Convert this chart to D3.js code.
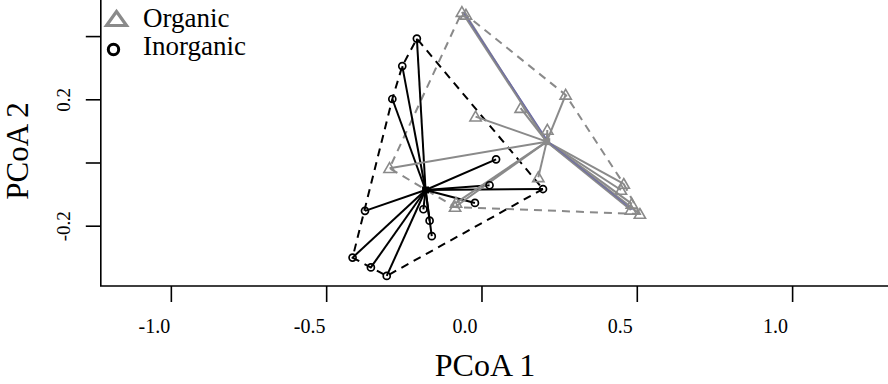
<!DOCTYPE html>
<html>
<head>
<meta charset="utf-8">
<script src="https://cdn.jsdelivr.net/npm/d3@7"></script>
<style>
    body { margin: 0; background: #fff; }
    svg { display: block; font-family: "Liberation Serif", "Times New Roman", serif; }
</style>
</head>
<body>
<div class="pcoa-graph"></div>
<script>
    // Sample scores (PCoA 1, PCoA 2)
    const organicX = [-0.063, -0.050, 0.271, 0.126, -0.019, 0.212, -0.296, 0.183, -0.082, -0.085, 0.458, 0.449, 0.484, 0.481, 0.510];
    const organicY = [0.476, 0.467, 0.214, 0.172, 0.145, 0.103, -0.018, -0.047, -0.128, -0.141, -0.068, -0.087, -0.131, -0.150, -0.163];
    const inorganicX = [-0.208, -0.255, -0.287, 0.047, 0.026, 0.198, -0.021, -0.375, -0.187, -0.167, -0.160, -0.415, -0.356, -0.305];
    const inorganicY = [0.392, 0.305, 0.201, 0.010, -0.072, -0.084, -0.128, -0.153, -0.148, -0.184, -0.233, -0.301, -0.332, -0.359];

    // group centroids (betadisper)
    const organicCentroid = [0.210, 0.066];
    const inorganicCentroid = [-0.180, -0.087];

    const groupNames = ["Organic", "Inorganic"];
    const xTicks = [-1.0, -0.5, 0.0, 0.5, 1.0];
    const xTickLabels = ["-1.0", "-0.5", "0.0", "0.5", "1.0"];
    const yTicks = [0.4, 0.2, 0.0, -0.2];
    const yTickLabels = ["", "0.2", "", "-0.2"];

    class PcoaGraph {
        constructor(selector) {
            this.width = 888;
            this.height = 384;
            this.grey = "#8a8a8a";

            this.svg = d3.select(selector)
                .append("svg")
                .attr("width", this.width)
                .attr("height", this.height);

            this.x = d3.scaleLinear().domain([-1.2255, 1.3087]).range([100.8, 888]);
            this.y = d3.scaleLinear().domain([-0.3908, 0.5142]).range([286, 0]);

            this.groups = [
                {name: "Inorganic", pts: d3.zip(inorganicX, inorganicY), c: inorganicCentroid, color: "#000", dash: "8,6"},
                {name: "Organic", pts: d3.zip(organicX, organicY), c: organicCentroid, color: this.grey, dash: "8,6"}
            ];

            this.drawAxes();
            this.drawGroups();
            this.drawLegend();
        }

        drawAxes() {
            const x = this.x, y = this.y;

            const xAxis = this.svg.append("g")
                .attr("transform", "translate(0,286)")
                .call(d3.axisBottom(x).tickValues(xTicks).tickSize(16).tickFormat((d, i) => xTickLabels[i]));
            xAxis.select(".domain").remove();
            xAxis.selectAll("line").attr("stroke", "#000").attr("stroke-width", 1.6);
            xAxis.selectAll("text")
                .attr("x", -17).attr("y", 47).attr("dy", 0)
                .attr("font-family", "Liberation Serif").attr("font-size", 20).attr("fill", "#000");

            const yAxis = this.svg.append("g")
                .attr("transform", "translate(100.8,0)")
                .call(d3.axisLeft(y).tickValues(yTicks).tickSize(15).tickFormat((d, i) => yTickLabels[i]));
            yAxis.select(".domain").remove();
            yAxis.selectAll("line").attr("stroke", "#000").attr("stroke-width", 1.6);
            yAxis.selectAll("text")
                .attr("x", 0).attr("y", 0).attr("dy", 0)
                .attr("text-anchor", "middle")
                .attr("transform", "translate(-31,0) rotate(-90)")
                .attr("font-family", "Liberation Serif").attr("font-size", 19).attr("fill", "#000");

            // L shaped frame
            this.svg.append("path")
                .attr("d", `M100.8,0 V286 H888`)
                .attr("fill", "none")
                .attr("stroke", "#000")
                .attr("stroke-width", 1.6);

            this.svg.append("text")
                .attr("x", 485).attr("y", 376)
                .attr("text-anchor", "middle")
                .attr("font-size", 32)
                .text("PCoA 1");

            this.svg.append("text")
                .attr("transform", "translate(28,151) rotate(-90)")
                .attr("text-anchor", "middle")
                .attr("font-size", 31)
                .text("PCoA 2");
        }

        drawGroups() {
            const x = this.x, y = this.y;
            const plot = this.svg.append("g");

            // hulls
            this.groups.forEach(g => {
                const hull = d3.polygonHull(g.pts);
                plot.append("path")
                    .attr("d", d3.line().x(d => x(d[0])).y(d => y(d[1])).curve(d3.curveLinearClosed)(hull))
                    .attr("fill", "none")
                    .attr("stroke", g.color)
                    .attr("stroke-width", 2)
                    .attr("stroke-dasharray", g.dash);
            });

            // spiders
            this.groups.forEach(g => {
                plot.append("g").selectAll("line")
                    .data(g.pts)
                    .enter()
                    .append("line")
                    .attr("x1", x(g.c[0])).attr("y1", y(g.c[1]))
                    .attr("x2", d => x(d[0])).attr("y2", d => y(d[1]))
                    .attr("stroke", g.color)
                    .attr("stroke-width", 2);
            });

            // the bluish overplotted segment through the organic centroid
            const org = this.groups[1];
            plot.append("path")
                .attr("d", d3.line().x(d => x(d[0]) + 1.5).y(d => y(d[1]))([org.pts[0], org.c, org.pts[13]]))
                .attr("fill", "none")
                .attr("stroke", "#6d6ca6")
                .attr("stroke-width", 1.2);

            // points
            plot.append("g").selectAll("circle")
                .data(this.groups[0].pts)
                .enter()
                .append("circle")
                .attr("cx", d => x(d[0]))
                .attr("cy", d => y(d[1]))
                .attr("r", 3.5)
                .attr("fill", "none")
                .attr("stroke", "#000")
                .attr("stroke-width", 1.7);

            plot.append("g").selectAll("path")
                .data(org.pts)
                .enter()
                .append("path")
                .attr("d", d3.symbol(d3.symbolTriangle, 55))
                .attr("transform", d => `translate(${x(d[0])},${y(d[1]) + 1})`)
                .attr("fill", "none")
                .attr("stroke", this.grey)
                .attr("stroke-width", 1.6);

            // centroids
            this.groups.forEach(g => {
                plot.append("rect")
                    .attr("x", x(g.c[0]) - 3.5)
                    .attr("y", y(g.c[1]) - 3.5)
                    .attr("width", 7)
                    .attr("height", 7)
                    .attr("fill", g.color);
            });
        }

        drawLegend() {
            const legend = this.svg.append("g");

            legend.append("path")
                .attr("d", "M116.5,11.5 L126.5,25.5 L106.5,25.5 Z")
                .attr("fill", "none")
                .attr("stroke", this.grey)
                .attr("stroke-width", 3.2);

            legend.append("circle")
                .attr("cx", 113.5).attr("cy", 49.5).attr("r", 5.2)
                .attr("fill", "none")
                .attr("stroke", "#000")
                .attr("stroke-width", 3);

            legend.selectAll("text")
                .data(groupNames)
                .enter()
                .append("text")
                .attr("x", 143)
                .attr("y", (d, i) => 27 + i * 28)
                .attr("font-size", 27)
                .text(d => d);
        }
    }

    new PcoaGraph(".pcoa-graph");
</script>
</body>
</html>
